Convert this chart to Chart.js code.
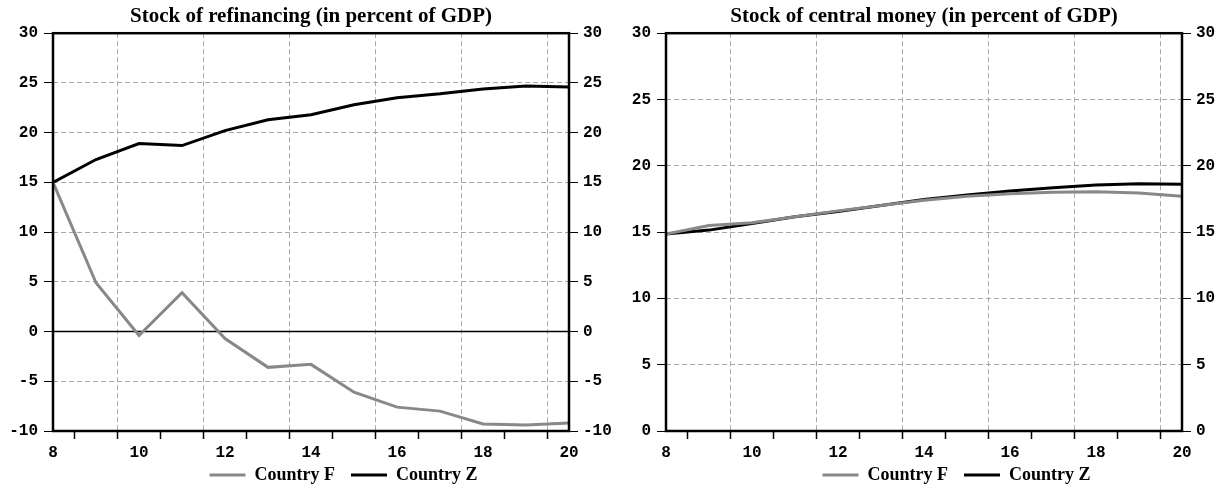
<!DOCTYPE html>
<html>
<head>
<meta charset="utf-8">
<script src="https://cdn.jsdelivr.net/npm/chart.js@4"></script>
<style>
  body { margin: 0; background: #fff; }
  #wrap { position: relative; width: 1226px; height: 490px; }
  .panel { position: absolute; top: 0; width: 613px; height: 490px; }
  #left { left: 0; }
  #right { left: 613px; }
</style>
</head>
<body>
<div id="wrap">
  <div class="panel" id="left"><canvas id="chart-refi"></canvas></div>
  <div class="panel" id="right"><canvas id="chart-money"></canvas></div>
</div>
<script>
// periods on the x axis
const periods = [8, 9, 10, 11, 12, 13, 14, 15, 16, 17, 18, 19, 20];

// Stock of refinancing (% of GDP)
const refiF = [15, 4.9, -0.4, 3.9, -0.7, -3.6, -3.3, -6.1, -7.6, -8.0, -9.3, -9.4, -9.2];
const refiZ = [15, 17.3, 18.9, 18.7, 20.2, 21.3, 21.8, 22.8, 23.5, 23.9, 24.4, 24.7, 24.6];

// Stock of central money (% of GDP)
const moneyF = [14.85, 15.5, 15.7, 16.15, 16.6, 17.0, 17.4, 17.7, 17.9, 18.0, 18.05, 17.95, 17.7];
const moneyZ = [14.85, 15.15, 15.65, 16.15, 16.55, 17.0, 17.45, 17.8, 18.1, 18.35, 18.55, 18.65, 18.6];

const refiTicks = [-10, -5, 0, 5, 10, 15, 20, 25, 30];
const moneyTicks = [0, 5, 10, 15, 20, 25, 30];
const xTickValues = [];
for (let v = 8; v <= 20; v += 0.5) xTickValues.push(v);

const GRAY = '#888888';
const GRID = '#a8a8a8';
const tickFont = { family: 'Liberation Mono', size: 16, weight: 'bold' };

// frame around plot area + zero line; legend sized/nudged like the original
const framePlugin = {
  id: 'frame',
  beforeLayout(chart) {
    const lg = chart.legend;
    if (lg && !lg._fixedFit) {
      const fit = lg.fit.bind(lg);
      lg.fit = function () { fit(); this.height = 30; };
      lg._fixedFit = true;
    }
  },
  afterLayout(chart) {
    const lg = chart.legend;
    if (lg) {
      lg.left += 37; lg.right += 37;
      lg.top -= 10;
    }
  },
  beforeDatasetsDraw(chart, args, opts) {
    if (!opts.zeroLine) return;
    const { ctx, chartArea: a } = chart;
    const y0 = chart.scales.y.getPixelForValue(0);
    ctx.save();
    ctx.strokeStyle = '#000';
    ctx.lineWidth = 1.5;
    ctx.beginPath();
    ctx.moveTo(a.left, y0);
    ctx.lineTo(a.right, y0);
    ctx.stroke();
    ctx.restore();
  },
  afterDraw(chart) {
    const { ctx, chartArea: a } = chart;
    ctx.save();
    ctx.strokeStyle = '#000';
    ctx.lineWidth = 2.5;
    ctx.strokeRect(a.left, a.top, a.right - a.left, a.bottom - a.top);
    ctx.restore();
  }
};

function toPoints(arr) {
  return periods.map((p, i) => ({ x: p, y: arr[i] }));
}

function makeChart(canvasId, title, seriesF, seriesZ, yMin, yMax, yTicks, zeroLine) {
  const setTicks = (scale) => { scale.ticks = yTicks.map(v => ({ value: v })); };
  return new Chart(document.getElementById(canvasId), {
    type: 'line',
    data: {
      datasets: [
        { label: 'Country F', data: toPoints(seriesF), borderColor: GRAY, backgroundColor: GRAY, borderWidth: 3, pointRadius: 0, tension: 0 },
        { label: 'Country Z', data: toPoints(seriesZ), borderColor: '#000', backgroundColor: '#000', borderWidth: 3, pointRadius: 0, tension: 0 }
      ]
    },
    options: {
      responsive: false,
      animation: false,
      layout: { padding: 0 },
      scales: {
        x: {
          type: 'linear',
          min: 8,
          max: 20,
          afterBuildTicks: (scale) => { scale.ticks = xTickValues.map(v => ({ value: v })); },
          afterFit: (scale) => { scale.height = 29; },
          ticks: {
            autoSkip: false,
            maxRotation: 0,
            padding: 4,
            color: '#000',
            font: tickFont,
            callback: (v) => (v % 2 === 0 ? String(v) : '')
          },
          grid: {
            tickLength: 8,
            lineWidth: 1,
            color: (c) => (c.tick && (c.tick.value - 9.5) % 2 === 0 ? GRID : 'rgba(0,0,0,0)'),
            tickColor: (c) => (c.tick && c.tick.value % 1 === 0.5 ? '#000' : 'rgba(0,0,0,0)'),
            tickWidth: 1.5
          },
          border: { display: false, dash: [5, 3] }
        },
        y: {
          position: 'left',
          min: yMin,
          max: yMax,
          afterBuildTicks: setTicks,
          afterFit: (scale) => { scale.width = 53; },
          ticks: { padding: 6, color: '#000', font: tickFont },
          grid: { tickLength: 9, color: GRID, tickColor: '#000', tickWidth: 1 },
          border: { display: false, dash: [5, 3] }
        },
        y2: {
          position: 'right',
          min: yMin,
          max: yMax,
          afterBuildTicks: setTicks,
          afterFit: (scale) => { scale.width = 44; },
          ticks: { padding: 5, color: '#000', font: tickFont },
          grid: { drawOnChartArea: false, tickLength: 9, tickColor: '#000', tickWidth: 1 },
          border: { display: false }
        }
      },
      plugins: {
        frame: { zeroLine: zeroLine },
        title: {
          display: true,
          text: title,
          fullSize: false,
          color: '#000',
          font: { family: 'Liberation Serif', size: 21, weight: 'bold' },
          padding: { top: 4, bottom: 4 }
        },
        legend: {
          position: 'bottom',
          labels: {
            boxWidth: 36,
            boxHeight: 3,
            padding: 16,
            color: '#000',
            font: { family: 'Liberation Serif', size: 18, weight: 'bold' },
            generateLabels: (chart) => chart.data.datasets.map((ds, i) => ({
              text: ds.label,
              fillStyle: ds.borderColor,
              strokeStyle: ds.borderColor,
              lineWidth: 0,
              datasetIndex: i
            }))
          }
        },
        tooltip: { enabled: false }
      }
    },
    plugins: [framePlugin]
  });
}

const c1 = document.getElementById('chart-refi');
const c2 = document.getElementById('chart-money');
c1.width = 613; c1.height = 490;
c2.width = 613; c2.height = 490;

makeChart('chart-refi', 'Stock of refinancing (in percent of GDP)', refiF, refiZ, -10, 30, refiTicks, true);
makeChart('chart-money', 'Stock of central money (in percent of GDP)', moneyF, moneyZ, 0, 30, moneyTicks, false);
</script>
</body>
</html>
